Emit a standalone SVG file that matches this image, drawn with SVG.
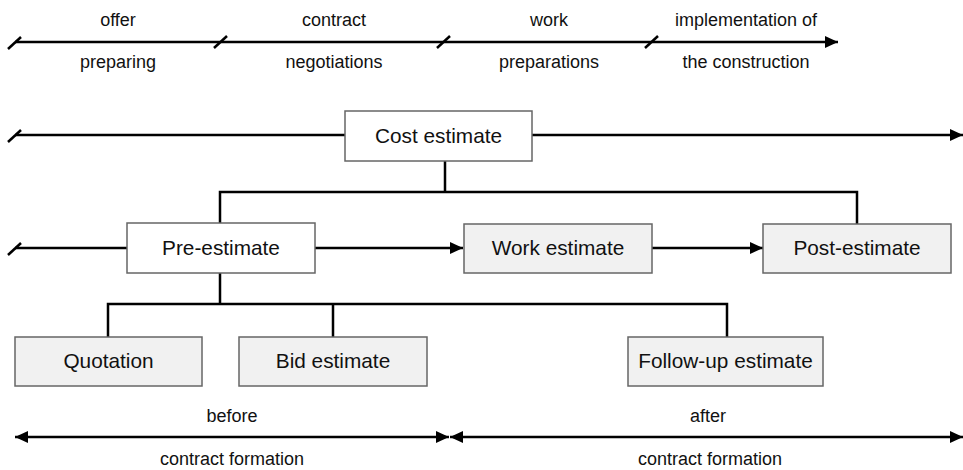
<svg xmlns="http://www.w3.org/2000/svg" width="963" height="470" viewBox="0 0 963 470">
<defs>
<marker id="ah" markerUnits="userSpaceOnUse" markerWidth="14" markerHeight="12" refX="13" refY="6" orient="auto-start-reverse">
<path d="M0,0 L13,6 L0,12 z" fill="#000"/>
</marker>
<style>
.ln{stroke:#000;stroke-width:2.5;fill:none}
.sl{stroke:#000;stroke-width:2.5;fill:none}
.bw{fill:#fff;stroke:#666;stroke-width:1.5}
.bg{fill:#f1f1f1;stroke:#666;stroke-width:1.5}
.bt{font-family:"Liberation Sans",Arial,sans-serif;font-size:20.8px;fill:#111;text-anchor:middle}
.lt{font-family:"Liberation Sans",Arial,sans-serif;font-size:18px;fill:#111;text-anchor:middle}
</style>
</defs>
<rect width="963" height="470" fill="#fff"/>
<g id="connectors">
<line class="ln" x1="15" y1="42" x2="838" y2="42" marker-end="url(#ah)"/>
<line class="sl" x1="8" y1="49" x2="21" y2="37"/>
<line class="sl" x1="214" y1="48" x2="227" y2="36"/>
<line class="sl" x1="437" y1="48" x2="450" y2="36"/>
<line class="sl" x1="645" y1="48" x2="658" y2="36"/>
<line class="ln" x1="15" y1="135" x2="345" y2="135"/>
<line class="sl" x1="8" y1="142" x2="21" y2="130"/>
<line class="ln" x1="532" y1="135" x2="963" y2="135" marker-end="url(#ah)"/>
<path class="ln" d="M445,161 V192 M220,223 V192 H857 V224"/>
<line class="ln" x1="15" y1="248" x2="127" y2="248"/>
<line class="sl" x1="8" y1="255" x2="21" y2="243"/>
<line class="ln" x1="315" y1="248" x2="463" y2="248" marker-end="url(#ah)"/>
<line class="ln" x1="652" y1="248" x2="763" y2="248" marker-end="url(#ah)"/>
<path class="ln" d="M220,273 V304 M108,337 V304 H727 V337 M333,304 V337"/>
<line class="ln" x1="15" y1="437" x2="449" y2="437" marker-start="url(#ah)" marker-end="url(#ah)"/>
<line class="ln" x1="450" y1="437" x2="963" y2="437" marker-start="url(#ah)" marker-end="url(#ah)"/>
</g>
<g id="timeline-labels">
<text class="lt" x="118" y="26">offer</text>
<text class="lt" x="118" y="68">preparing</text>
<text class="lt" x="334" y="26">contract</text>
<text class="lt" x="334" y="68">negotiations</text>
<text class="lt" x="549" y="26">work</text>
<text class="lt" x="549" y="68">preparations</text>
<text class="lt" x="746" y="26">implementation of</text>
<text class="lt" x="746" y="68">the construction</text>
<text class="lt" x="232" y="422">before</text>
<text class="lt" x="232" y="465">contract formation</text>
<text class="lt" x="708" y="422">after</text>
<text class="lt" x="710" y="465">contract formation</text>
</g>
<g id="cost-estimate">
<rect class="bw" x="345" y="111" width="187" height="50"/>
<text class="bt" x="438.5" y="143">Cost estimate</text>
</g>
<g id="pre-estimate">
<rect class="bw" x="127" y="223" width="188" height="50"/>
<text class="bt" x="221" y="255">Pre-estimate</text>
</g>
<g id="work-estimate">
<rect class="bg" x="464" y="224" width="188" height="49"/>
<text class="bt" x="558" y="255">Work estimate</text>
</g>
<g id="post-estimate">
<rect class="bg" x="763" y="224" width="188" height="49"/>
<text class="bt" x="857" y="255">Post-estimate</text>
</g>
<g id="quotation">
<rect class="bg" x="15" y="337" width="187" height="49"/>
<text class="bt" x="108.5" y="368">Quotation</text>
</g>
<g id="bid-estimate">
<rect class="bg" x="239" y="337" width="188" height="49"/>
<text class="bt" x="333" y="368">Bid estimate</text>
</g>
<g id="follow-up-estimate">
<rect class="bg" x="628" y="337" width="195" height="49"/>
<text class="bt" x="725.5" y="368">Follow-up estimate</text>
</g>
</svg>
